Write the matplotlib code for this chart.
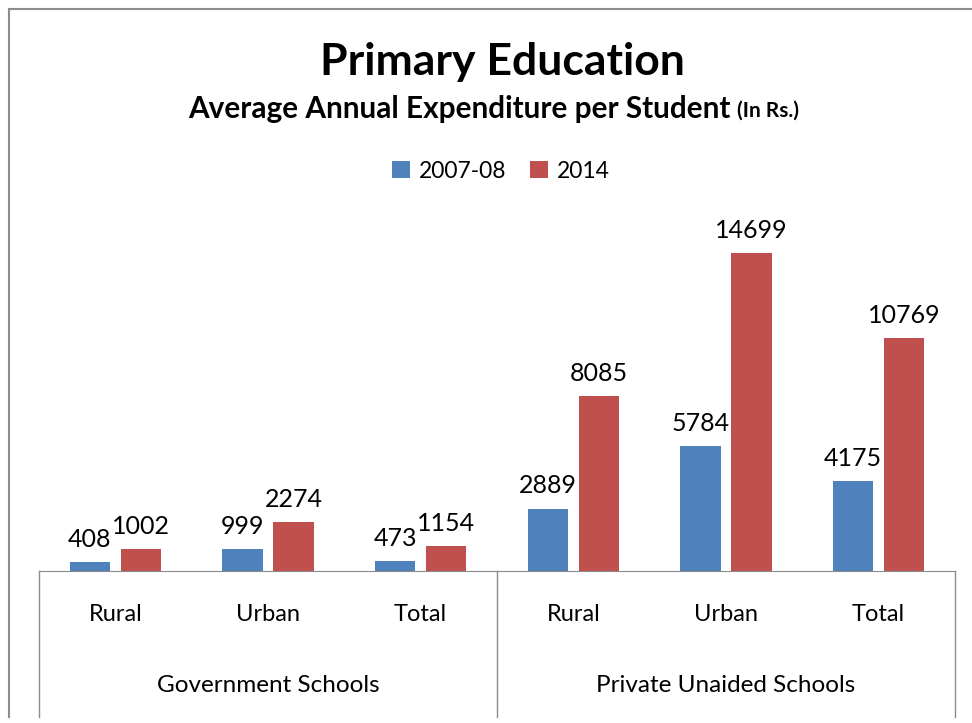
import numpy as np
import matplotlib.pyplot as plt
from matplotlib.lines import Line2D
from matplotlib.transforms import blended_transform_factory

plt.rcParams["font.family"] = ["Lato", "DejaVu Sans"]

# Data
groups = ["Government Schools", "Private Unaided Schools"]
categories = ["Rural", "Urban", "Total", "Rural", "Urban", "Total"]
series_names = ["2007-08", "2014"]
values_0708 = [408, 999, 473, 2889, 5784, 4175]
values_2014 = [1002, 2274, 1154, 8085, 14699, 10769]

blue = "#4F81BD"
red = "#C0504D"
line_gray = "#8c8c8c"

W, H = 972, 723
ax_left, ax_right, ax_bottom, ax_top = 39, 955, 571, 225
fig = plt.figure(figsize=(W / 100, H / 100), dpi=100)
ax = fig.add_axes([ax_left / W, (H - ax_bottom) / H,
                   (ax_right - ax_left) / W, (ax_bottom - ax_top) / H])

x = np.arange(len(categories))
width = 0.265
off = 0.167
b1 = ax.bar(x - off, values_0708, width, color=blue, label=series_names[0])
b2 = ax.bar(x + off, values_2014, width, color=red, label=series_names[1])

for bars, vals in [(b1, values_0708), (b2, values_2014)]:
    for rect, v in zip(bars, vals):
        ax.annotate(str(v), (rect.get_x() + rect.get_width() / 2, rect.get_height()),
                    xytext=(0, 8), textcoords="offset points",
                    ha="center", va="bottom", fontsize=18)

ax.set_xlim(-0.5, len(categories) - 0.5)
ax.set_ylim(0, 16000)
ax.set_yticks([])
ax.set_xticks(x)
ax.set_xticklabels(categories, fontsize=17)
ax.tick_params(axis="x", length=0, pad=24)
for s in ["top", "left", "right"]:
    ax.spines[s].set_visible(False)
ax.spines["bottom"].set_color(line_gray)

# group separators and group labels
trans = blended_transform_factory(ax.transData, ax.transAxes)
axis_h_px = ax_bottom - ax_top
drop = (717 - ax_bottom) / axis_h_px
for xs in [-0.5, 2.5, 5.5]:
    ax.plot([xs, xs], [0, -drop], transform=trans, color=line_gray,
            lw=1, clip_on=False)
group_y = -(686 - ax_bottom) / axis_h_px
for i, g in enumerate(groups):
    ax.text(1 + 3 * i, group_y, g, transform=trans, ha="center", va="center",
            fontsize=17.5)

# titles
fig.text(502 / W, 1 - 62 / H, "Primary Education", ha="center", va="center",
         fontsize=32, fontweight="bold")
t1 = fig.text(188 / W, 1 - 109 / H, "Average Annual Expenditure per Student",
              ha="left", va="center", fontsize=21.4, fontweight="bold")
fig.canvas.draw()
bb = t1.get_window_extent()
fig.text((bb.x1 + 7) / W, 1 - 111 / H, "(In Rs.)", ha="left", va="center",
         fontsize=15, fontweight="bold")

ax.legend(loc="center", bbox_to_anchor=(501 / W, 1 - 171 / H),
          bbox_transform=fig.transFigure, ncol=2, frameon=False, fontsize=16.5,
          handlelength=0.8, handleheight=0.8, handletextpad=0.4,
          columnspacing=1.0)

# outer chart border
fig.add_artist(Line2D([9 / W, 9 / W], [1 - 9 / H, 1 - 717 / H],
                      transform=fig.transFigure, color=line_gray, lw=1.5))
fig.add_artist(Line2D([9 / W, 1], [1 - 9 / H, 1 - 9 / H],
                      transform=fig.transFigure, color=line_gray, lw=1.5))

fig.savefig("out.png", dpi=100)
